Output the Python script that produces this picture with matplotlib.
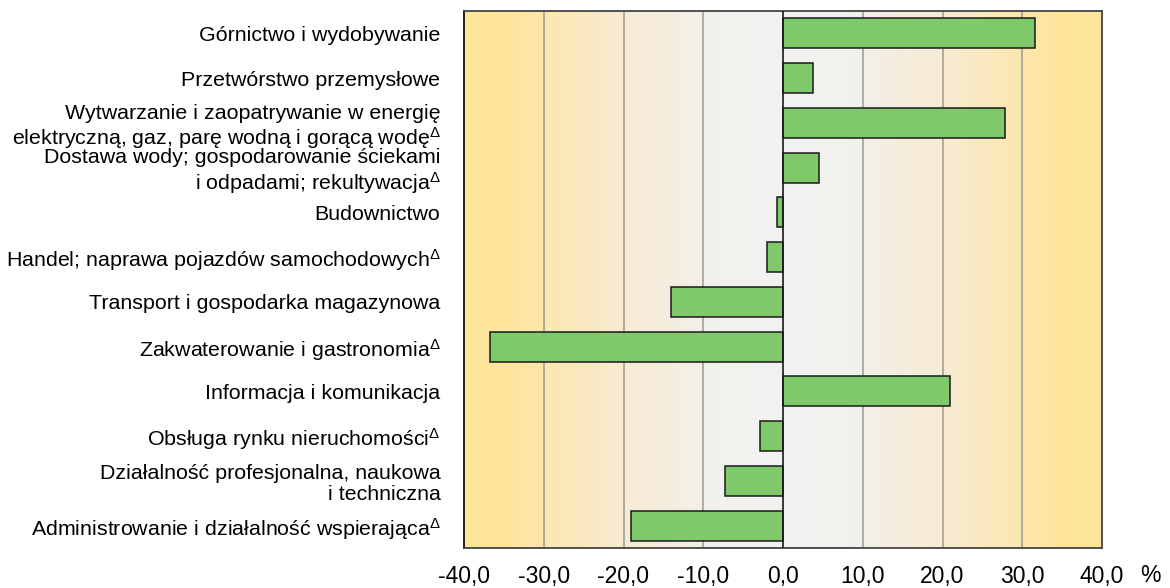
import numpy as np
import matplotlib
matplotlib.use("Agg")
import matplotlib.pyplot as plt

plt.rcParams['font.family'] = ['Liberation Sans', 'DejaVu Sans']
plt.rcParams['mathtext.fontset'] = 'custom'
plt.rcParams['mathtext.rm'] = 'Liberation Sans'
plt.rcParams['mathtext.it'] = 'Liberation Sans'

# sections (top to bottom) and change in %
labels = [
    "Górnictwo i wydobywanie",
    "Przetwórstwo przemysłowe",
    "Wytwarzanie i zaopatrywanie w energię\nelektryczną, gaz, parę wodną i gorącą wodę$^{\\Delta}$",
    "Dostawa wody; gospodarowanie ściekami\ni odpadami; rekultywacja$^{\\Delta}$",
    "Budownictwo",
    "Handel; naprawa pojazdów samochodowych$^{\\Delta}$",
    "Transport i gospodarka magazynowa",
    "Zakwaterowanie i gastronomia$^{\\Delta}$",
    "Informacja i komunikacja",
    "Obsługa rynku nieruchomości$^{\\Delta}$",
    "Działalność profesjonalna, naukowa\ni techniczna",
    "Administrowanie i działalność wspierająca$^{\\Delta}$",
]
values = [31.6, 3.7, 27.8, 4.5, -0.7, -2.0, -14.1, -36.8, 21.0, -2.9, -7.3, -19.0]
xticks = [-40, -30, -20, -10, 0, 10, 20, 30, 40]
xticklabels = ["-40,0", "-30,0", "-20,0", "-10,0", "0,0", "10,0", "20,0", "30,0", "40,0"]

fig = plt.figure(figsize=(11.7, 5.88), dpi=100)
ax = fig.add_axes([464 / 1170, 1 - 548 / 588, (1102 - 464) / 1170, (548 - 11) / 588])

# background gradient: yellow at the edges, light grey in the middle
gx = np.linspace(-40, 40, 800)
stops = [0, 8, 20, 30, 35, 40]
cols = np.array([
    [0xF2, 0xF2, 0xF0],
    [0xF2, 0xF1, 0xEE],
    [0xF7, 0xEB, 0xD3],
    [0xFC, 0xE7, 0xAE],
    [0xFF, 0xE5, 0x9A],
    [0xFD, 0xE5, 0x9C],
]) / 255.0
rgb = np.stack([np.interp(np.abs(gx), stops, cols[:, k]) for k in range(3)], axis=-1)
ax.imshow(rgb[np.newaxis, :, :], extent=[-40, 40, 11.5, -0.5], aspect='auto',
          interpolation='bilinear', zorder=0)

y = np.arange(len(values))
for t in xticks[1:-1]:
    if t != 0:
        ax.axvline(t, color='#a3a09b', lw=1.2, zorder=1)
ax.barh(y, values, height=0.67, color='#80c96b', edgecolor='#1a1a1a', lw=1.1, zorder=3)
ax.axvline(0, color='#1a1a1a', lw=1.2, zorder=4)

ax.set_xlim(-40, 40)
ax.set_ylim(11.5, -0.5)
ax.set_yticks(y)
ax.set_yticklabels(labels, fontsize=15.4, linespacing=1.12)
ax.set_xticks(xticks)
ax.set_xticklabels(xticklabels, fontsize=16.5)
ax.tick_params(axis='both', length=0)
ax.tick_params(axis='y', pad=17)
ax.tick_params(axis='x', pad=12)
for s in ax.spines.values():
    s.set_color('#444444')
    s.set_linewidth(1.3)
ax.spines['left'].set_color('#111111')

fig.text(1150 / 1170, 1 - 576 / 588, "%", fontsize=16.5, ha='center', va='center')

plt.savefig('out.png', dpi=100)
plt.close()
